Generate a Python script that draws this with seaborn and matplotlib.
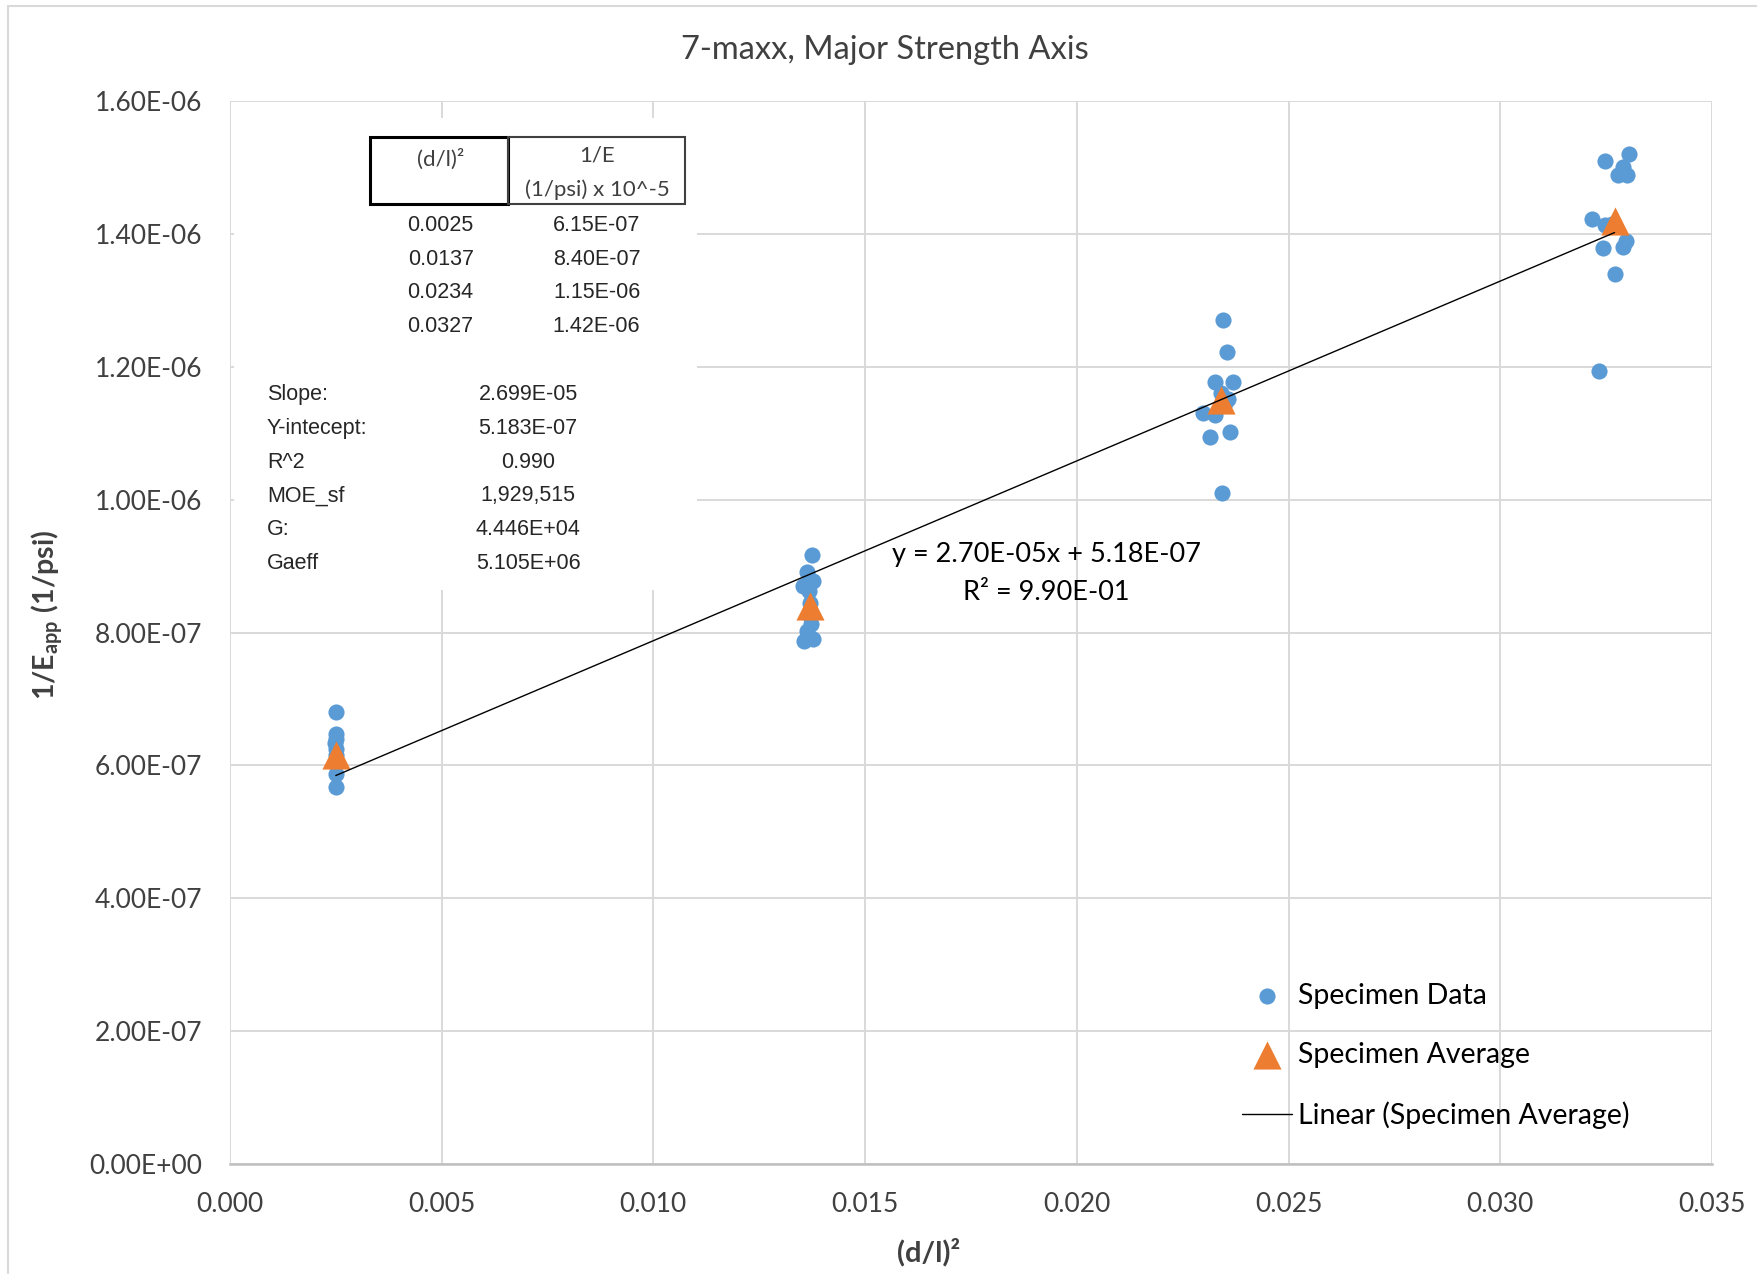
import numpy as np
import pandas as pd
import matplotlib
matplotlib.use("Agg")
import matplotlib.pyplot as plt
from matplotlib.patches import Rectangle
from matplotlib.ticker import FuncFormatter, MultipleLocator
import seaborn as sns

# ---------------- data ----------------
spec_x_1 = [0.00250, 0.00250, 0.00251, 0.00249, 0.00250, 0.00250, 0.00251, 0.00250, 0.00251]
spec_y_1 = [6.80e-7, 6.47e-7, 6.40e-7, 6.33e-7, 6.25e-7, 6.15e-7, 6.05e-7, 5.87e-7, 5.67e-7]

spec_x_2 = [0.01375, 0.01362, 0.01377, 0.01353, 0.01368, 0.01370, 0.01370, 0.01372, 0.01362, 0.01378, 0.01355]
spec_y_2 = [9.16e-7, 8.91e-7, 8.77e-7, 8.70e-7, 8.62e-7, 8.45e-7, 8.25e-7, 8.13e-7, 8.02e-7, 7.90e-7, 7.88e-7]

spec_x_3 = [0.02346, 0.02354, 0.02326, 0.02370, 0.02357, 0.02299, 0.02326, 0.02314, 0.02362, 0.02344, 0.02340, 0.02350]
spec_y_3 = [1.271e-6, 1.222e-6, 1.177e-6, 1.177e-6, 1.152e-6, 1.130e-6, 1.127e-6, 1.095e-6, 1.102e-6, 1.010e-6, 1.160e-6, 1.145e-6]

spec_x_4 = [0.03305, 0.03247, 0.03290, 0.03279, 0.03300, 0.03216, 0.03247, 0.03243, 0.03290, 0.03298, 0.03272, 0.03234, 0.03265]
spec_y_4 = [1.521e-6, 1.510e-6, 1.501e-6, 1.489e-6, 1.489e-6, 1.423e-6, 1.413e-6, 1.379e-6, 1.381e-6, 1.389e-6, 1.340e-6, 1.193e-6, 1.415e-6]

avg_x = [0.0025, 0.0137, 0.0234, 0.0327]
avg_y = [6.15e-7, 8.40e-7, 1.15e-6, 1.42e-6]

table_x_labels = ["0.0025", "0.0137", "0.0234", "0.0327"]
table_y_labels = ["6.15E-07", "8.40E-07", "1.15E-06", "1.42E-06"]
stat_names = ["Slope:", "Y-intecept:", "R^2", "MOE_sf", "G:", "Gaeff"]
stat_values = ["2.699E-05", "5.183E-07", "0.990", "1,929,515", "4.446E+04", "5.105E+06"]

title = "7-maxx, Major Strength Axis"
eq_text = "y = 2.70E-05x + 5.18E-07"
r2_text = "R\u00b2 = 9.90E-01"

# ---------------- style ----------------
sns.set_theme(style="white")
plt.rcParams['font.family'] = ['Lato', 'DejaVu Sans']
plt.rcParams['mathtext.fontset'] = 'custom'
plt.rcParams['mathtext.rm'] = 'Lato:bold'
plt.rcParams['mathtext.it'] = 'Lato:bold'
plt.rcParams['mathtext.bf'] = 'Lato:bold'

BLUE = "#5B9BD5"
ORANGE = "#ED7D31"
GRID = "#d9d9d9"
TXT = "#404040"

fig = plt.figure(figsize=(17.58, 12.74), dpi=100)
ax = fig.add_axes([0.1308, 0.0863, 0.9738 - 0.1308, 0.9207 - 0.0863])

spec_df = pd.DataFrame({
    "x": spec_x_1 + spec_x_2 + spec_x_3 + spec_x_4,
    "y": spec_y_1 + spec_y_2 + spec_y_3 + spec_y_4,
})
avg_df = pd.DataFrame({"x": avg_x, "y": avg_y})

sns.scatterplot(data=spec_df, x="x", y="y", ax=ax, color=BLUE, s=135,
                linewidth=0, marker="o", label="Specimen Data", zorder=3)
sns.scatterplot(data=avg_df, x="x", y="y", ax=ax, color=ORANGE, s=410,
                linewidth=0, marker="^", label="Specimen Average", zorder=4)

slope, intercept = np.polyfit(avg_x, avg_y, 1)
fit_x = np.array([min(avg_x), max(avg_x)])
fit_df = pd.DataFrame({"x": fit_x, "y": slope * fit_x + intercept})
sns.lineplot(data=fit_df, x="x", y="y", ax=ax, color="black", linewidth=1.0,
             label="Linear (Specimen Average)", zorder=5)

ax.set_xlim(0, 0.035)
ax.set_ylim(0, 1.6e-6)
ax.xaxis.set_major_locator(MultipleLocator(0.005))
ax.yaxis.set_major_locator(MultipleLocator(2e-7))
ax.xaxis.set_major_formatter(FuncFormatter(lambda v, p: f"{v:.3f}"))
ax.yaxis.set_major_formatter(FuncFormatter(lambda v, p: format(v, ".2E")))
ax.set_axisbelow(True)
ax.grid(True, color=GRID, linewidth=1.4)
for side in ["left", "right", "top"]:
    ax.spines[side].set_visible(False)
ax.spines["bottom"].set_color("#bfbfbf")
ax.spines["bottom"].set_linewidth(1.8)
ax.tick_params(axis="both", length=0, labelsize=19, colors=TXT)
ax.tick_params(axis="y", pad=20)
ax.tick_params(axis="x", pad=20)

ax.set_xlabel("(d/l)\u00b2", fontsize=21, fontweight="bold", color=TXT)
ax.xaxis.set_label_coords(0.4717, -0.083)
ax.xaxis.label.set_va("center")
ax.set_ylabel(r"$\mathrm{1/E_{app}\ (1/psi)}$", fontsize=20.5, color=TXT)
ax.yaxis.set_label_coords(-0.1235, 0.517)
ax.yaxis.label.set_va("center")

ax.set_title(title, fontsize=23.5, color=TXT, x=0.4417, y=1.040, va="center")

# white inset panel covering gridlines
ax.add_patch(Rectangle((0.003, 0.540), 0.315 - 0.003, 0.984 - 0.540,
                       transform=ax.transAxes, facecolor="white",
                       edgecolor="none", zorder=1))
# header cells
ax.add_patch(Rectangle((0.0946, 0.903), 0.1876 - 0.0946, 0.9662 - 0.903,
                       transform=ax.transAxes, facecolor="none",
                       edgecolor="black", linewidth=2.2, zorder=2))
ax.add_patch(Rectangle((0.1876, 0.903), 0.3071 - 0.1876, 0.9662 - 0.903,
                       transform=ax.transAxes, facecolor="none",
                       edgecolor="#404040", linewidth=1.5, zorder=2))
ax.text(0.1422, 0.9451, "(d/l)\u00b2", transform=ax.transAxes, ha="center",
        va="center", fontsize=16, color=TXT, zorder=3)
ax.text(0.2474, 0.9483, "1/E", transform=ax.transAxes, ha="center",
        va="center", fontsize=16, color=TXT, zorder=3)
ax.text(0.2481, 0.9167, "(1/psi) x 10^-5", transform=ax.transAxes, ha="center",
        va="center", fontsize=16, color=TXT, zorder=3)

row_y = [0.8829, 0.8513, 0.8196, 0.7880]
for yy, a, b in zip(row_y, table_x_labels, table_y_labels):
    ax.text(0.1422, yy, a, transform=ax.transAxes, ha="center", va="center",
            fontsize=15.5, family="Liberation Sans", color="#262626", zorder=3)
    ax.text(0.2474, yy, b, transform=ax.transAxes, ha="center", va="center",
            fontsize=15.5, family="Liberation Sans", color="#262626", zorder=3)

stat_y = [0.7236, 0.6920, 0.6603, 0.6287, 0.5970, 0.5654]
for yy, n, v in zip(stat_y, stat_names, stat_values):
    ax.text(0.025, yy, n, transform=ax.transAxes, ha="left", va="center",
            fontsize=15.5, family="Liberation Sans", color="#262626", zorder=3)
    ax.text(0.2012, yy, v, transform=ax.transAxes, ha="center", va="center",
            fontsize=15.5, family="Liberation Sans", color="#262626", zorder=3)

# trendline equation
ax.text(0.5507, 0.5738, eq_text, transform=ax.transAxes, ha="center",
        va="center", fontsize=19.5, color="black", zorder=6)
ax.text(0.5507, 0.5380, r2_text, transform=ax.transAxes, ha="center",
        va="center", fontsize=19.5, color="black", zorder=6)

leg = ax.legend(loc="center left", bbox_to_anchor=(0.683, 0.102), frameon=False,
                fontsize=20.5, handlelength=1.75, handletextpad=0.22,
                labelspacing=1.17, borderpad=0, borderaxespad=0)
for t in leg.get_texts():
    t.set_color("black")

# chart-area border
fig.patches.append(Rectangle((0.0045, -0.01), 1.1, 0.9953 + 0.01,
                             transform=fig.transFigure, facecolor="none",
                             edgecolor=GRID, linewidth=1.5))

fig.savefig("out.png", dpi=100, facecolor="white")
